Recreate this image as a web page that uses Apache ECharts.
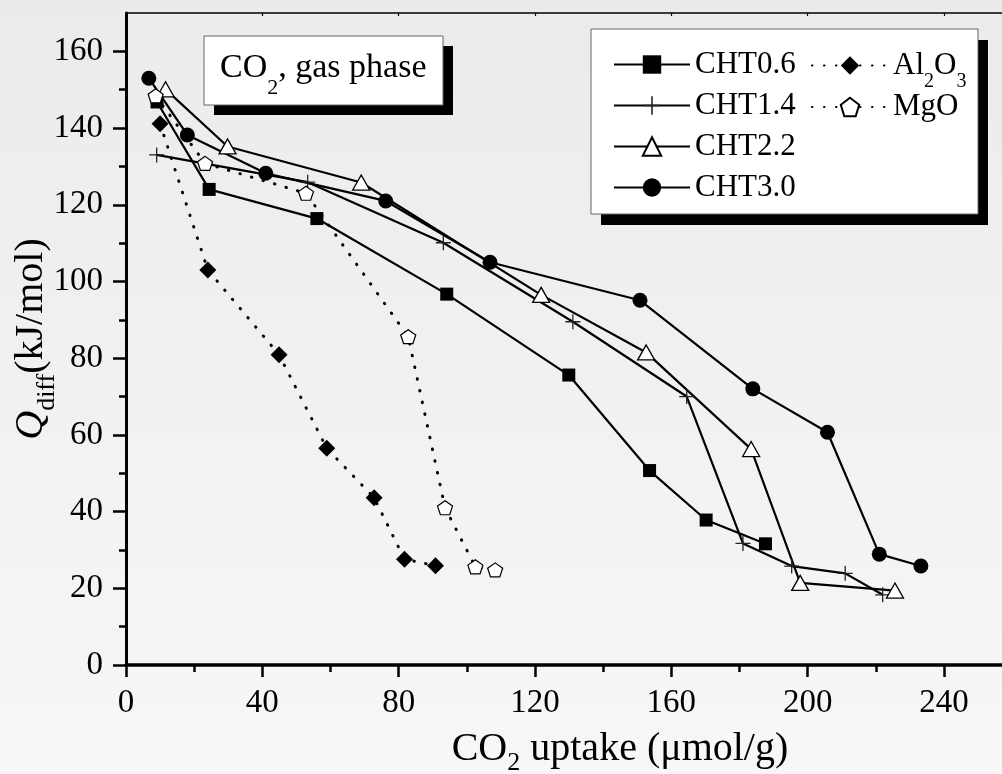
<!DOCTYPE html>
<html>
<head>
<meta charset="utf-8">
<script src="https://cdn.jsdelivr.net/npm/echarts@6/dist/echarts.min.js"></script>
<style>
  html, body { margin: 0; padding: 0; }
  #chart { width: 1002px; height: 774px; }
</style>
</head>
<body>
<div id="chart"></div>
<script>
// 数据
const cht06X = [9.1, 24.4, 56.0, 94.1, 129.9, 153.6, 170.2, 187.6];
const cht06Y = [146.8, 124.0, 116.4, 96.7, 75.6, 50.7, 37.8, 31.6];

const cht14X = [9.0, 53.3, 93.1, 131.1, 164.5, 181.0, 195.3, 211.0, 222.0];
const cht14Y = [133.0, 125.9, 110.1, 89.5, 70.0, 31.7, 25.8, 23.9, 18.3];

const cht22X = [11.6, 29.8, 69.0, 121.8, 152.6, 183.4, 197.8, 225.6];
const cht22Y = [150.1, 135.2, 125.8, 96.5, 81.5, 56.3, 21.4, 19.4];

const cht30X = [6.7, 18.0, 41.0, 76.2, 106.8, 150.8, 183.9, 205.8, 221.0, 233.2];
const cht30Y = [153.0, 138.2, 128.2, 121.0, 105.0, 95.1, 72.0, 60.7, 28.9, 25.8];

const al2o3X = [10.0, 24.0, 44.9, 58.9, 72.8, 81.7, 90.8];
const al2o3Y = [141.1, 103.0, 80.9, 56.5, 43.6, 27.6, 25.9];

const mgoX = [8.7, 23.2, 52.8, 82.8, 93.6, 102.5, 108.3];
const mgoY = [148.4, 130.8, 123.0, 85.6, 41.0, 25.6, 24.8];

const xMajor = [0, 40, 80, 120, 160, 200, 240];
const xMinor = [20, 60, 100, 140, 180, 220];
const yMajor = [0, 20, 40, 60, 80, 100, 120, 140, 160];
const yMinor = [10, 30, 50, 70, 90, 110, 130, 150];

const X_MAX = 257;
const Y_MAX = 170;

const zip = (xs, ys) => xs.map((x, i) => [x, ys[i]]);

const FONT = 'Liberation Serif';
const pentagon = 'path://M50,0 L97.6,34.5 L79.4,90.5 L20.6,90.5 L2.4,34.5 Z';
const plus = 'path://M0,6.4 H14 V7.6 H0 Z M6.4,0 H7.6 V14 H6.4 Z';

const chart = echarts.init(document.getElementById('chart'));

const solidLine = { color: '#000', width: 2.2 };
const dotLine = { color: '#000', width: 3, type: [0.5, 11.5], cap: 'round' };

const baseSeries = {
  type: 'line',
  xAxisIndex: 0,
  yAxisIndex: 0,
  showAllSymbol: true,
  animation: false,
  emphasis: { disabled: true },
  clip: false
};

const option = {
  animation: false,
  backgroundColor: {
    type: 'linear', x: 0, y: 0, x2: 0, y2: 1,
    colorStops: [
      { offset: 0, color: '#ebebeb' },
      { offset: 1, color: '#f7f7f7' }
    ]
  },
  grid: { left: 126, right: 0, top: 13, bottom: 109, containLabel: false, outerBoundsMode: 'none' },
  xAxis: [
    {
      type: 'value', position: 'bottom', min: 0, max: X_MAX,
      axisLine: { lineStyle: { color: '#000', width: 3.5 } },
      axisTick: { customValues: xMajor, length: 12, lineStyle: { color: '#000', width: 2.5 } },
      axisLabel: {
        customValues: xMajor, margin: 22,
        color: '#000', fontFamily: FONT, fontSize: 33
      },
      splitLine: { show: false },
      name: '{n|CO}{sub|2}{n| uptake (μmol/g)}',
      nameLocation: 'middle',
      nameGap: 57,
      nameMoveOverlap: false,
      nameTextStyle: {
        padding: [0, 0, 0, 112],
        rich: {
          n: { fontFamily: FONT, fontSize: 40, color: '#000' },
          sub: { fontFamily: FONT, fontSize: 26, color: '#000', lineHeight: 54, verticalAlign: 'bottom' }
        }
      }
    },
    {
      // 次刻度
      type: 'value', position: 'bottom', min: 0, max: X_MAX,
      axisLine: { show: false },
      axisTick: { customValues: xMinor, length: 7, lineStyle: { color: '#000', width: 2.5 } },
      axisLabel: { show: false },
      splitLine: { show: false }
    },
    {
      // 顶部边框
      type: 'value', position: 'top', min: 0, max: X_MAX,
      axisLine: { lineStyle: { color: '#000', width: 1.5 } },
      axisTick: { customValues: xMajor, inside: true, length: 3, lineStyle: { color: '#000', width: 1.2 } },
      axisLabel: { show: false },
      splitLine: { show: false }
    }
  ],
  yAxis: [
    {
      type: 'value', position: 'left', min: 0, max: Y_MAX,
      axisLine: { lineStyle: { color: '#000', width: 3 } },
      axisTick: { customValues: yMajor, length: 13, lineStyle: { color: '#000', width: 2.5 } },
      axisLabel: {
        customValues: yMajor, margin: 23,
        color: '#000', fontFamily: FONT, fontSize: 33
      },
      splitLine: { show: false },
      name: '{q|Q}{sub|diff}{n|(kJ/mol)}',
      nameLocation: 'middle',
      nameGap: 66,
      nameMoveOverlap: false,
      nameTextStyle: {
        rich: {
          q: { fontFamily: FONT, fontSize: 40, fontStyle: 'italic', color: '#000' },
          n: { fontFamily: FONT, fontSize: 40, color: '#000' },
          sub: { fontFamily: FONT, fontSize: 26, color: '#000', lineHeight: 57, verticalAlign: 'bottom' }
        }
      }
    },
    {
      type: 'value', position: 'left', min: 0, max: Y_MAX,
      axisLine: { show: false },
      axisTick: { customValues: yMinor, length: 7, lineStyle: { color: '#000', width: 2.5 } },
      axisLabel: { show: false },
      splitLine: { show: false }
    }
  ],
  legend: [
    {
      data: ['CHT0.6', 'CHT1.4', 'CHT2.2', 'CHT3.0'],
      orient: 'vertical',
      left: 608, top: 44,
      itemWidth: 76, itemHeight: 23, itemGap: 10,
      selectedMode: false,
      textStyle: { fontFamily: FONT, fontSize: 31, color: '#000' }
    },
    {
      data: ['Al2O3', 'MgO'],
      orient: 'vertical',
      left: 806, top: 45,
      itemWidth: 76, itemHeight: 23, itemGap: 0,
      selectedMode: false,
      formatter: name => name === 'Al2O3' ? '{n|Al}{sub|2}{n|O}{sub|3}' : '{n|' + name + '}',
      textStyle: {
        rich: {
          n: { fontFamily: FONT, fontSize: 31, color: '#000' },
          sub: { fontFamily: FONT, fontSize: 20, color: '#000', lineHeight: 52, verticalAlign: 'bottom' }
        }
      }
    }
  ],
  graphic: [
    // 图例框
    { type: 'rect', z: -1, shape: { x: 601, y: 40, width: 387, height: 185 }, style: { fill: '#000' }, silent: true },
    { type: 'rect', z: -1, shape: { x: 591, y: 29, width: 387, height: 185 }, style: { fill: '#fff', stroke: '#666', lineWidth: 1 }, silent: true },
    // 标注框
    { type: 'rect', z: 1, shape: { x: 214, y: 46, width: 239, height: 69 }, style: { fill: '#000' }, silent: true },
    { type: 'rect', z: 1, shape: { x: 204, y: 36, width: 239, height: 69 }, style: { fill: '#fff', stroke: '#666', lineWidth: 1 }, silent: true },
    {
      type: 'text', z: 2, silent: true,
      style: {
        x: 220, y: 68,
        text: '{n|CO}{sub|2}{n|, gas phase}',
        verticalAlign: 'middle',
        rich: {
          n: { fontFamily: FONT, fontSize: 34, fill: '#000' },
          sub: { fontFamily: FONT, fontSize: 22, fill: '#000', lineHeight: 62, verticalAlign: 'bottom' }
        }
      }
    }
  ],
  series: [
    Object.assign({}, baseSeries, {
      name: 'CHT0.6', data: zip(cht06X, cht06Y),
      symbol: 'rect', symbolSize: 13,
      lineStyle: solidLine, itemStyle: { color: '#000' }
    }),
    Object.assign({}, baseSeries, {
      name: 'CHT1.4', data: zip(cht14X, cht14Y),
      symbol: plus, symbolSize: 15,
      lineStyle: solidLine, itemStyle: { color: '#222' }
    }),
    Object.assign({}, baseSeries, {
      name: 'CHT2.2', data: zip(cht22X, cht22Y),
      symbol: 'triangle', symbolSize: [17, 15],
      lineStyle: solidLine, itemStyle: { color: '#fff', borderColor: '#000', borderWidth: 1.3 }
    }),
    Object.assign({}, baseSeries, {
      name: 'CHT3.0', data: zip(cht30X, cht30Y),
      symbol: 'circle', symbolSize: 15,
      lineStyle: solidLine, itemStyle: { color: '#000' }
    }),
    Object.assign({}, baseSeries, {
      name: 'Al2O3', data: zip(al2o3X, al2o3Y),
      symbol: 'diamond', symbolSize: 17,
      lineStyle: dotLine, itemStyle: { color: '#000' }
    }),
    Object.assign({}, baseSeries, {
      name: 'MgO', data: zip(mgoX, mgoY),
      symbol: pentagon, symbolSize: [15, 14],
      lineStyle: dotLine, itemStyle: { color: '#fff', borderColor: '#000', borderWidth: 1.2 }
    })
  ]
};

chart.setOption(option);
window.addEventListener('resize', () => chart.resize());
</script>
</body>
</html>
